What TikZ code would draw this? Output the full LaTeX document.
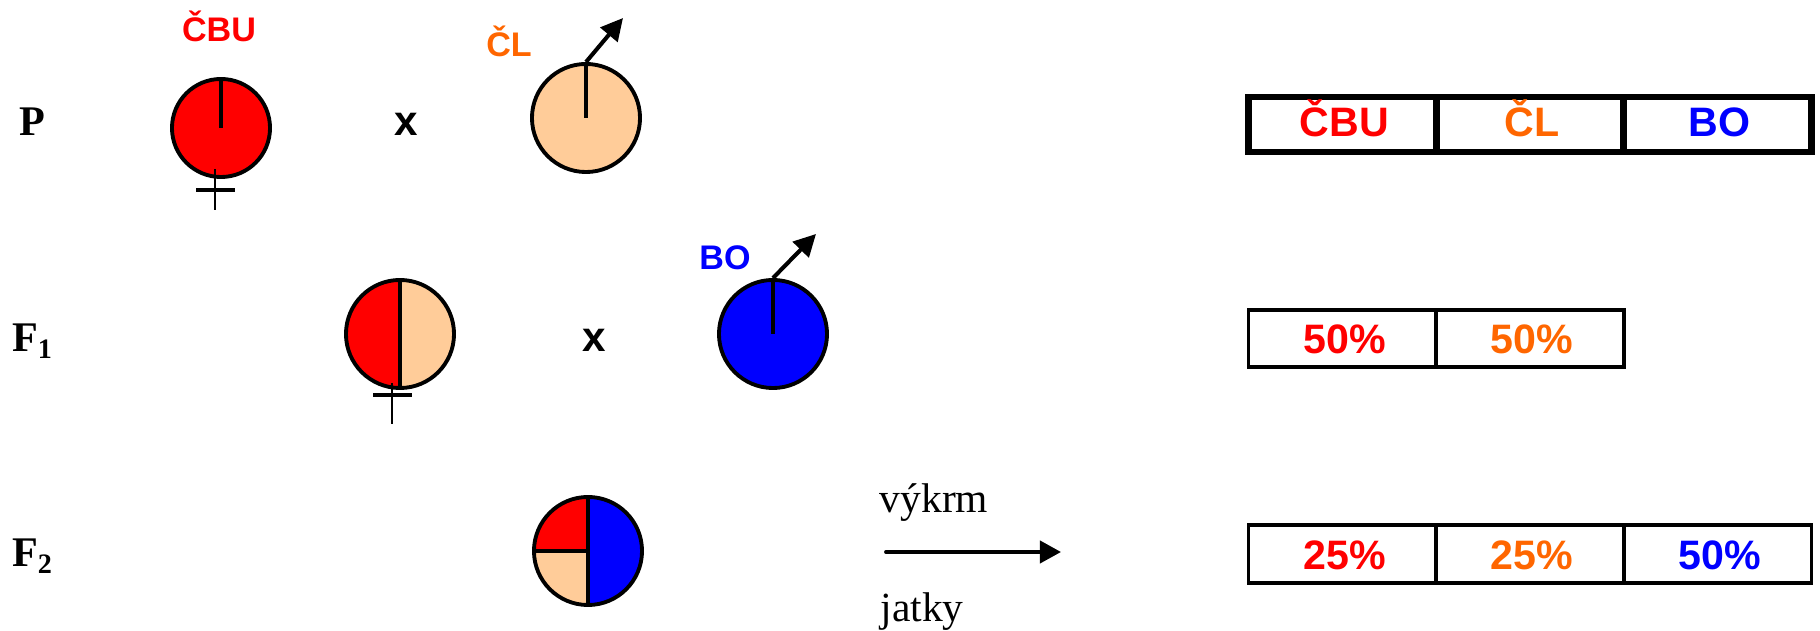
\documentclass[tikz,border=0pt]{standalone}
\usepackage{fontspec}
\setmainfont{Liberation Serif}
\setsansfont{Liberation Sans}
\usepackage{tikz}
\usetikzlibrary{arrows.meta,positioning}
\usepackage{xcolor}
\definecolor{cbured}{RGB}{255,0,0}
\definecolor{clorange}{RGB}{255,102,0}
\definecolor{clpeach}{RGB}{255,204,153}
\definecolor{boblue}{RGB}{0,0,255}
\tikzset{
    animal/.style={circle,draw,line width=1.1pt,inner sep=0pt,minimum size=1.08cm},
    divider/.style={line width=1.1pt},
    maleline/.style={line width=1.15pt,-{Triangle[length=0.22cm,width=0.22cm]}},
    crossbar/.style={line width=1pt},
    crossline/.style={line width=0.7pt},
    genlabel/.style={anchor=base,font=\bfseries\fontsize{12}{14}\selectfont},
    crosslabel/.style={anchor=base,font=\sffamily\bfseries\fontsize{12}{14}\selectfont},
    breedlabel/.style={anchor=base,font=\sffamily\bfseries\fontsize{9.7}{11}\selectfont},
    cell/.style={rectangle,draw,line width=1pt,inner sep=0pt,minimum width=1.875cm,text depth=0pt,execute at begin node={\hspace*{0.04cm}},font=\sffamily\bfseries\fontsize{11.7}{14}\selectfont},
    plainlabel/.style={anchor=base,font=\fontsize{11.8}{14}\selectfont}
}
\begin{document}
\begin{tikzpicture}[x=0.01cm,y=-0.01cm]
        \useasboundingbox (0,0) rectangle (1820,631);

        % Generations
        \node[genlabel] (genp) at (32,136) {P};
        \node[genlabel] (genfa) at (33,352) {F\textsubscript{1}};
        \node[genlabel] (genfb) at (33,567) {F\textsubscript{2}};

        % Parents
        \node[animal,fill=cbured,minimum size=0.98cm] (cbu) at (221,128) {};
        \node[animal,fill=clpeach] (cl) at (586,118) {};
        \node[crosslabel] (crossp) at (406,136) {x};
        \node[breedlabel,text=cbured] (cbulabel) at (219,42) {ČBU};
        \node[breedlabel,text=clorange] (cllabel) at (509,57) {ČL};
        \draw[divider] (cbu.north) -- (cbu.center);
        \draw[divider] (cl.north) -- (cl.center);
        \coordinate (cltip) at (623,18);
        \draw[maleline] (cl.north) -- (cltip);

        % First generation
        \node[animal,fill=clpeach,path picture={\fill[cbured] (path picture bounding box.north west) rectangle (path picture bounding box.south);}] (hybrid) at (400,334) {};
        \node[animal,fill=boblue] (bo) at (773,334) {};
        \node[crosslabel] (crossf) at (594,352) {x};
        \node[breedlabel,text=boblue] (bolabel) at (725,270) {BO};
        \draw[divider] (hybrid.north) -- (hybrid.south);
        \draw[divider] (bo.north) -- (bo.center);
        \coordinate (botip) at (816,234);
        \draw[maleline] (bo.north) -- (botip);

        % Female marks
        \foreach \cx/\cy/\cb in {215/189/190,392/403/395} {
            \draw[crossline] (\cx,\cy-20) -- (\cx,\cy+21);
            \draw[crossbar] (\cx-19,\cb) -- (\cx+20,\cb);
        }

        % Second generation
        \node[animal,fill=boblue,path picture={
            \fill[cbured] (path picture bounding box.north west) rectangle (path picture bounding box.center);
            \fill[clpeach] (path picture bounding box.south west) rectangle (path picture bounding box.center);
        }] (pie) at (588,551) {};
        \draw[divider] (pie.north) -- (pie.south);
        \draw[divider] (pie.west) -- (pie.center);

        % Fattening
        \node[plainlabel] (vykrm) at (934,513) {výkrm};
        \node[plainlabel] (jatky) at (922,622) {jatky};
        \coordinate (fatstart) at (886,552);
        \coordinate (fatend) at (1061,552);
        \draw[line width=1.1pt,line cap=round,-{Triangle[length=0.21cm,width=0.22cm]}] (fatstart) -- (fatend);

        % Breed shares
        \node[cell,line width=1.9pt,minimum height=0.55cm,text height=0.25cm,text=cbured] (parenta) at (1342.5,124.5) {ČBU};
        \node[cell,line width=1.9pt,minimum height=0.55cm,text height=0.25cm,text=clorange] (parentb) at (1530,124.5) {ČL};
        \node[cell,line width=1.9pt,minimum height=0.55cm,text height=0.25cm,text=boblue] (parentc) at (1717.5,124.5) {BO};

        \node[cell,minimum height=0.57cm,text height=0.29cm,text=cbured] (hybrida) at (1342.5,338.5) {50\%};
        \node[cell,minimum height=0.57cm,text height=0.29cm,text=clorange] (hybridb) at (1530,338.5) {50\%};

        \node[cell,minimum height=0.58cm,text height=0.30cm,text=cbured] (fattena) at (1342.5,554) {25\%};
        \node[cell,minimum height=0.58cm,text height=0.30cm,text=clorange] (fattenb) at (1530,554) {25\%};
        \node[cell,minimum height=0.58cm,text height=0.30cm,text=boblue] (fattenc) at (1717.5,554) {50\%};
    \end{tikzpicture}
\end{document}
